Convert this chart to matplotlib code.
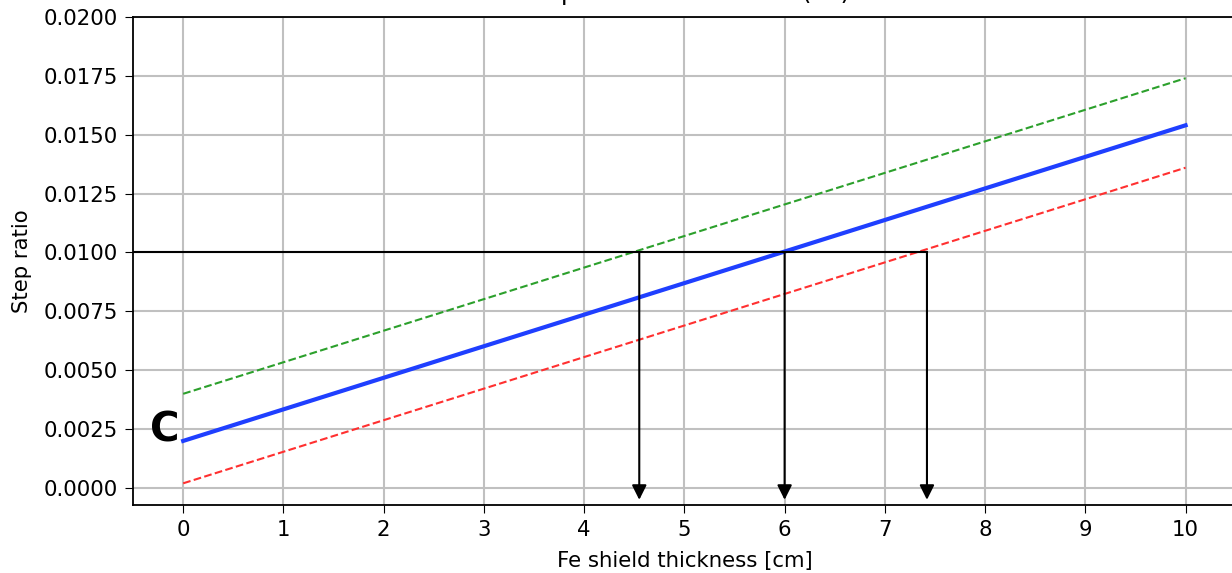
import numpy as np
import matplotlib.pyplot as plt

# Fe shield thickness [cm] and step ratios (central, upper, lower)
thickness = [0, 10]
ratio_mid = [0.0020, 0.0154]
ratio_upper = [0.0040, 0.0174]
ratio_lower = [0.0002, 0.0136]

# reading of the 0.01 level on each line
target = 0.0100
cross_x = [4.55, 6.0, 7.42]

plt.rcParams['font.size'] = 15.3

fig = plt.figure(figsize=(12.32, 5.73), dpi=100)
ax = fig.add_axes([0.108, 0.1187, 0.895, 0.8517])

ax.plot(thickness, ratio_upper, '--', color='#2ca02c', lw=1.5)
ax.plot(thickness, ratio_mid, '-', color='#1f3fff', lw=3.0)
ax.plot(thickness, ratio_lower, '--', color='#ff3030', lw=1.5)

# horizontal level and arrows down to the axis
ax.plot([-0.5, cross_x[-1]], [target, target], color='black', lw=1.5)
for xc in cross_x:
    ax.annotate('', xy=(xc, -0.0005), xytext=(xc, target),
                arrowprops=dict(arrowstyle='-|>', color='black', lw=1.5,
                                mutation_scale=22, shrinkA=0, shrinkB=0))

ax.text(-0.04, 0.00245, 'C', fontsize=29, fontweight='bold',
        family='DejaVu Sans', ha='right', va='center')

ax.set_xlim(-0.5, 10.5)
ax.set_ylim(-0.00072, 0.0200)
ax.set_xticks(range(0, 11))
ax.set_yticks(np.arange(0, 0.02001, 0.0025))
ax.yaxis.set_major_formatter(plt.FormatStrFormatter('%.4f'))
ax.tick_params(axis='both', length=6, pad=5)
ax.grid(True, color='#c0c0c0', lw=1.5)
ax.set_axisbelow(True)
for s in ax.spines.values():
    s.set_linewidth(1.3)

ax.set_xlabel('Fe shield thickness [cm]', labelpad=8)
ax.set_ylabel('Step ratio', labelpad=8)
ax.set_title('Step ratio at detector (Fe)', pad=13)

fig.savefig('out.png', dpi=100)
